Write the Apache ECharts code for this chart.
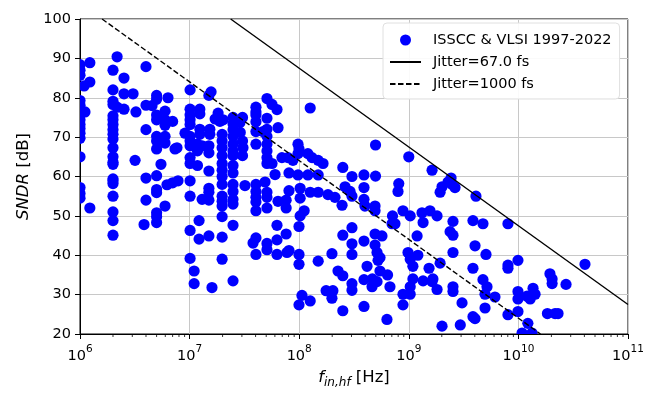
<!DOCTYPE html>
<html>
<head>
<meta charset="utf-8">
<script src="https://cdn.jsdelivr.net/npm/echarts@6/dist/echarts.min.js"></script>
<style>
html, body { margin: 0; padding: 0; background: #fff; }
#chart { width: 647px; height: 394px; }
</style>
</head>
<body>
<div id="chart"></div>
<script>
// Axis ranges and ticks
const freqRange = [1e6, 1e11];
const sndrRange = [20, 100];
const sndrTicks = [20, 30, 40, 50, 60, 70, 80, 90, 100];
const freqDecades = [1e6, 1e7, 1e8, 1e9, 1e10, 1e11];

// Jitter-limit lines, [f_in (Hz), SNDR (dB)] end points
const jitter67fs = [[2.37e7, 100], [1e11, 27.5]];
const jitter1000fs = [[1.59e6, 100], [1.59e10, 20]];

// Published ADCs, [f_in,hf (Hz), SNDR (dB)]
const designs = [
  [1e6,88.4],[1e6,87.0],[1e6,85.7],[1e6,79.3],[1e6,78.1],[1e6,76.9],[1e6,75.6],[1e6,74.4],
  [1e6,73.2],[1e6,72.2],[1e6,71.0],[1e6,69.7],[1e6,65.0],[1e6,57.2],[1e6,55.7],[1e6,54.5],
  [1.09e6,83.0],[1.11e6,76.4],[1.23e6,88.9],[1.23e6,84.0],[1.23e6,52.0],
  [2e6,87.0],[2e6,82.0],[2e6,79.1],[2e6,78.3],[2e6,75.4],[2e6,74.4],[2e6,73.2],[2e6,71.9],
  [2e6,70.7],[2e6,69.5],[2e6,67.3],[2e6,65.0],[2e6,63.6],[2e6,63.1],[2e6,59.4],[2e6,58.9],
  [2e6,58.2],[2e6,55.0],[2e6,51.0],[2e6,48.8],[2e6,45.1],
  [2.18e6,90.4],[2.18e6,77.6],[2.52e6,85.0],[2.52e6,81.0],[2.52e6,77.1],[3.05e6,81.0],
  [3.24e6,76.4],[3.18e6,64.1],
  [4e6,87.9],[4e6,78.1],[4e6,71.9],[4e6,59.6],[4e6,54.0],[3.84e6,47.8],[4.54e6,78.0],
  [5e6,80.6],[5e6,79.6],[5e6,75.6],[5e6,74.4],[5e6,70.2],[5e6,69.0],[5e6,67.0],[5e6,60.2],
  [5e6,56.7],[5e6,55.9],[5e6,50.8],[5e6,49.8],[5e6,48.3],[5.48e6,63.1],
  [5.97e6,76.6],[5.97e6,74.4],[5.97e6,73.0],[5.97e6,70.2],[5.97e6,68.5],[5.97e6,52.5],
  [6.35e6,80.0],[6.22e6,57.9],[7e6,74.0],[7e6,58.4],[7.36e6,67.0],[7.67e6,67.3],[7.84e6,58.9],
  [9.08e6,71.0],
  [1.01e7,82.0],[1.01e7,77.1],[1.01e7,75.6],[1.01e7,74.4],[1.01e7,73.2],[1.01e7,70.2],
  [1.01e7,69.0],[1.01e7,67.8],[1.01e7,64.8],[1.01e7,63.3],[1.01e7,58.9],[1.01e7,55.0],
  [1.01e7,46.3],[1.01e7,39.2],[1.10e7,36.0],[1.10e7,32.8],
  [1.18e7,68.2],[1.18e7,66.5],[1.18e7,62.8],
  [1.24e7,77.1],[1.24e7,75.9],[1.24e7,72.0],[1.24e7,70.7],[1.3e7,67.8],[1.22e7,48.8],[1.22e7,44.1],
  [1.3e7,54.2],
  [1.57e7,81.5],[1.5e7,80.6],[1.53e7,72.0],[1.53e7,70.7],[1.5e7,67.8],[1.5e7,66.0],[1.5e7,61.4],
  [1.5e7,57.0],[1.5e7,56.0],[1.5e7,54.0],[1.5e7,44.9],[1.6e7,31.8],
  [1.71e7,74.6],[1.82e7,76.1],[1.89e7,74.0],[2.02e7,74.4],
  [1.98e7,70.7],[1.98e7,69.0],[1.98e7,67.3],[1.98e7,65.3],[1.98e7,63.3],[1.98e7,61.6],
  [1.98e7,60.0],[1.98e7,58.0],[1.98e7,55.0],[1.98e7,53.7],[1.98e7,52.5],[1.98e7,49.8],
  [1.98e7,44.6],[1.98e7,39.0],
  [2.49e7,75.0],[2.49e7,73.4],[2.49e7,71.9],[2.49e7,70.2],[2.49e7,68.2],[2.49e7,66.5],
  [2.49e7,65.3],[2.49e7,62.8],[2.49e7,60.9],[2.49e7,58.0],[2.49e7,56.2],[2.49e7,54.2],
  [2.49e7,53.0],[2.49e7,47.6],[2.49e7,33.5],
  [2.88e7,73.7],[2.9e7,71.2],[3.04e7,75.0],[3.04e7,69.0],[3.07e7,67.3],[3.04e7,65.3],
  [3.2e7,57.7],[3.79e7,43.1],
  [4.03e7,77.6],[4.03e7,76.4],[4.03e7,75.6],[4.03e7,73.9],[4.03e7,71.4],[4.03e7,68.2],
  [4.03e7,58.0],[4.03e7,56.2],[4.03e7,54.7],[4.03e7,53.5],[4.03e7,51.3],[4.03e7,44.4],
  [4.03e7,40.2],[4.67e7,71.4],
  [5.08e7,79.8],[5.08e7,74.8],[5.08e7,72.0],[5.08e7,70.2],[5.08e7,68.2],[5.08e7,66.5],
  [5.08e7,64.8],[5.08e7,63.3],[4.88e7,58.6],[5.08e7,56.0],[5.08e7,54.7],[5.08e7,52.0],
  [5.08e7,43.0],[5.08e7,41.4],
  [5.65e7,78.3],[5.65e7,63.3],[6.02e7,60.5],
  [6.27e7,77.0],[6.27e7,47.6],[6.27e7,43.9],[6.27e7,40.2],[6.41e7,72.4],[6.41e7,53.7],
  [6.96e7,64.8],[7.6e7,54.0],[7.6e7,52.0],[7.6e7,45.4],[7.74e7,40.7],[7.9e7,64.8],
  [8.07e7,60.9],[8.07e7,56.4],[8.07e7,41.2],[8.77e7,64.1],
  [9.75e7,68.2],[9.96e7,67.0],[9.75e7,65.8],[9.75e7,60.4],[1.02e8,57.0],[1.02e8,54.5],
  [1.02e8,50.0],[9.96e7,47.3],[9.96e7,40.2],[9.96e7,37.7],[9.96e7,27.4],
  [1.06e8,29.8],[1.11e8,51.3],[1.2e8,65.8],[1.2e8,60.4],
  [1.26e8,77.4],[1.26e8,56.0],[1.26e8,28.4],[1.31e8,64.8],
  [1.49e8,64.1],[1.49e8,60.4],[1.49e8,56.0],[1.49e8,38.5],
  [1.65e8,63.3],[1.76e8,31.0],[1.83e8,55.4],[1.99e8,40.4],[2.03e8,31.0],[1.99e8,29.1],
  [2.12e8,54.7],[2.26e8,36.0],
  [2.5e8,62.3],[2.46e8,52.7],[2.5e8,45.1],[2.5e8,34.8],[2.5e8,25.9],[2.62e8,57.4],[2.91e8,56.2],
  [3.03e8,60.0],[3.03e8,55.0],[3.03e8,47.0],[3.03e8,42.9],[3.03e8,40.2],[3.03e8,32.8],[3.03e8,31.1],
  [3.9e8,60.4],[3.9e8,57.2],[3.9e8,54.2],[3.98e8,52.5],[3.9e8,43.6],[3.9e8,33.8],[3.9e8,27.0],
  [4.16e8,37.2],[4.65e8,34.0],[4.62e8,32.0],
  [4.97e8,68.0],[4.97e8,60.1],[4.92e8,52.5],[4.92e8,51.3],[4.92e8,45.4],[4.92e8,42.6],
  [5.13e8,40.7],[5.24e8,38.7],[5.13e8,33.3],[5.46e8,39.4],[5.46e8,36.0],[5.69e8,44.9],
  [6.4e8,35.0],[6.32e8,23.7],[6.73e8,32.0],[7.1e8,50.0],[7.03e8,48.0],[7.48e8,48.0],
  [8.1e8,58.2],[7.97e8,56.2],[8.85e8,51.3],[8.85e8,30.1],[8.85e8,27.4],
  [1.0e9,65.0],[1.03e9,50.0],[9.84e8,40.7],[1.03e9,39.0],[1.09e9,34.0],[1.03e9,32.0],
  [1.03e9,30.1],[1.09e9,37.2],[1.19e9,44.9],[1.21e9,40.0],
  [1.32e9,50.8],[1.35e9,48.3],[1.35e9,33.5],[1.56e9,51.3],[1.53e9,36.7],
  [1.63e9,61.6],[1.63e9,33.3],[1.66e9,34.0],[1.81e9,50.0],[1.81e9,31.3],
  [1.93e9,56.0],[1.93e9,38.0],[2.01e9,57.4],[2.01e9,22.0],[2.28e9,58.6],
  [2.48e9,58.0],[2.43e9,59.6],[2.53e9,48.6],[2.38e9,46.0],[2.53e9,45.1],[2.53e9,40.7],
  [2.53e9,32.0],[2.53e9,30.8],[2.64e9,57.2],[2.95e9,22.3],[3.06e9,27.9],
  [3.85e9,48.8],[3.85e9,36.7],[3.85e9,24.4],[4.1e9,55.0],[4.02e9,42.4],[4.02e9,23.9],
  [4.75e9,48.0],[4.75e9,33.8],[5.06e9,40.2],[5.17e9,32.0],[4.96e9,30.1],[4.96e9,26.6],
  [6.11e9,29.4],[8.03e9,48.0],[8.03e9,37.5],[8.03e9,36.7],[8.03e9,24.9],
  [9.91e9,38.7],[9.91e9,30.8],[9.91e9,28.9],[9.91e9,25.7],[1.08e10,20.25],
  [1.2e10,29.6],[1.22e10,22.7],[1.28e10,28.9],[1.36e10,31.6],[1.33e10,20.25],[1.42e10,30.1],
  [1.84e10,25.2],[1.94e10,35.3],[2.03e10,34.0],[2.03e10,32.8],[2.16e10,25.2],[2.3e10,25.2],
  [2.72e10,32.6],[4.05e10,37.7]
];

// Minor tick positions: 2..9 within each decade
const minorTicks = [];
for (let i = 0; i < freqDecades.length - 1; i++) {
  for (let m = 2; m <= 9; m++) minorTicks.push([freqDecades[i] * m, sndrRange[0]]);
}

const FONT = 'DejaVu Sans';
const chart = echarts.init(document.getElementById('chart'), null, { renderer: 'canvas' });

chart.setOption({
  animation: false,
  backgroundColor: '#fff',
  grid: {
    left: 80, right: 19, top: 19, bottom: 50,
    show: true, borderColor: '#000', borderWidth: 1, backgroundColor: 'transparent'
  },
  legend: {
    orient: 'vertical',
    left: 383, top: 23,
    padding: [9, 8, 7, 6],
    itemGap: 6,
    itemWidth: 31, itemHeight: 11,
    backgroundColor: 'rgba(255,255,255,0.9)',
    borderColor: '#e0e0e0', borderWidth: 1, borderRadius: 4,
    textStyle: { fontFamily: FONT, fontSize: 14.5, color: '#000', lineHeight: 16, padding: [0, 0, 0, 7] },
    data: [
      { name: 'ISSCC & VLSI 1997-2022', icon: 'circle' },
      { name: 'Jitter=67.0 fs', itemStyle: { opacity: 0 } },
      { name: 'Jitter=1000 fs', itemStyle: { opacity: 0 } }
    ]
  },
  xAxis: {
    type: 'log', logBase: 10,
    min: freqRange[0], max: freqRange[1], splitNumber: 5,
    name: '{i|f}{s|in,hf}{n| [Hz]}',
    nameLocation: 'middle', nameGap: 35,
    nameTextStyle: {
      rich: {
        i: { fontFamily: FONT, fontSize: 16.5, fontStyle: 'italic', color: '#000', verticalAlign: 'top', lineHeight: 19 },
        s: { fontFamily: FONT, fontSize: 12, fontStyle: 'italic', color: '#000', verticalAlign: 'bottom', lineHeight: 20 },
        n: { fontFamily: FONT, fontSize: 16.5, color: '#000', verticalAlign: 'top', lineHeight: 19 }
      }
    },
    axisLine: { show: true, lineStyle: { color: '#000', width: 1 } },
    axisTick: { show: true, length: 5, lineStyle: { color: '#000', width: 1 } },
    axisLabel: {
      margin: 10,
      formatter: v => '{b|10}{e|' + Math.round(Math.log10(v)) + '}',
      rich: {
        b: { fontFamily: FONT, fontSize: 14.5, color: '#000', verticalAlign: 'bottom', lineHeight: 20 },
        e: { fontFamily: FONT, fontSize: 10.5, color: '#000', verticalAlign: 'top', lineHeight: 12 }
      }
    },
    splitLine: { show: true, lineStyle: { color: '#c8c8c8', width: 1 } },
    minorTick: { show: false }
  },
  yAxis: {
    type: 'value',
    min: sndrRange[0], max: sndrRange[1], interval: 10,
    name: '{i|SNDR}{n| [dB]}',
    nameLocation: 'middle', nameRotate: 90, nameGap: 48,
    nameTextStyle: {
      rich: {
        i: { fontFamily: FONT, fontSize: 16.5, fontStyle: 'italic', color: '#000' },
        n: { fontFamily: FONT, fontSize: 16.5, color: '#000' }
      }
    },
    axisLine: { show: true, lineStyle: { color: '#000', width: 1 } },
    axisTick: { show: true, length: 5, lineStyle: { color: '#000', width: 1 } },
    axisLabel: {
      margin: 9, fontFamily: FONT, fontSize: 14.5, color: '#000',
      formatter: v => (sndrTicks.indexOf(v) >= 0 ? String(v) : '')
    },
    splitLine: { show: true, lineStyle: { color: '#c8c8c8', width: 1 } }
  },
  series: [
    {
      name: 'ISSCC & VLSI 1997-2022',
      type: 'custom',
      coordinateSystem: 'cartesian2d',
      clip: true,
      itemStyle: { color: '#0000ff' },
      data: designs,
      z: 2,
      renderItem: function (params, api) {
        const p = api.coord([api.value(0), api.value(1)]);
        return { type: 'circle', shape: { cx: p[0], cy: p[1], r: 5.6 }, style: { fill: '#0000ff' } };
      }
    },
    {
      name: 'Jitter=67.0 fs',
      type: 'line',
      data: jitter67fs,
      symbol: 'none',
      lineStyle: { color: '#000', width: 1.4, type: 'solid' },
      itemStyle: { color: '#000' },
      z: 5
    },
    {
      name: 'Jitter=1000 fs',
      type: 'line',
      data: jitter1000fs,
      symbol: 'none',
      lineStyle: { color: '#000', width: 1.4, type: [5.5, 2.5] },
      itemStyle: { color: '#000' },
      z: 5
    },
    {
      name: 'minor-ticks',
      type: 'custom',
      coordinateSystem: 'cartesian2d',
      clip: false,
      silent: true,
      data: minorTicks,
      z: 6,
      renderItem: function (params, api) {
        const p = api.coord([api.value(0), api.value(1)]);
        return {
          type: 'line',
          shape: { x1: p[0], y1: p[1], x2: p[0], y2: p[1] + 3 },
          style: { stroke: '#000', lineWidth: 0.8 }
        };
      }
    }
  ]
});
</script>
</body>
</html>
